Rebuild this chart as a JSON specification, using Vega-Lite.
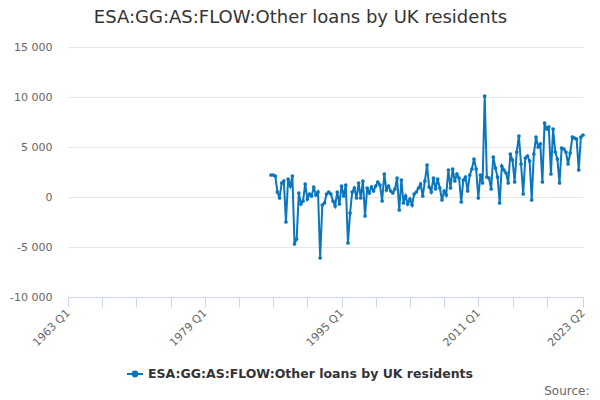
{
  "$schema": "https://vega.github.io/schema/vega-lite/v6.json",
  "width": 515,
  "height": 250,
  "autosize": "none",
  "padding": {"left": 68, "top": 47, "right": 17, "bottom": 103},
  "background": "white",
  "config": {"font": "DejaVu Sans", "view": {"stroke": null}},
  "title": {
    "text": "ESA:GG:AS:FLOW:Other loans by UK residents",
    "fontSize": 18,
    "fontWeight": "normal",
    "color": "#333333",
    "anchor": "middle",
    "dx": -25,
    "baseline": "alphabetic",
    "offset": 0
  },
  "data": {
    "values": [
      {"date": "1986-10-01", "value": 2200},
      {"date": "1987-01-01", "value": 2200},
      {"date": "1987-04-01", "value": 2100},
      {"date": "1987-07-01", "value": 500},
      {"date": "1987-10-01", "value": -100},
      {"date": "1988-01-01", "value": 1400},
      {"date": "1988-04-01", "value": 1600},
      {"date": "1988-07-01", "value": -2500},
      {"date": "1988-10-01", "value": 1800},
      {"date": "1989-01-01", "value": 1100},
      {"date": "1989-04-01", "value": 2100},
      {"date": "1989-07-01", "value": -4700},
      {"date": "1989-10-01", "value": -4200},
      {"date": "1990-01-01", "value": 400},
      {"date": "1990-04-01", "value": -700},
      {"date": "1990-07-01", "value": -400},
      {"date": "1990-10-01", "value": 1300},
      {"date": "1991-01-01", "value": -200},
      {"date": "1991-04-01", "value": 300},
      {"date": "1991-07-01", "value": 100},
      {"date": "1991-10-01", "value": 1000},
      {"date": "1992-01-01", "value": 200},
      {"date": "1992-04-01", "value": 500},
      {"date": "1992-07-01", "value": -6100},
      {"date": "1992-10-01", "value": -800},
      {"date": "1993-01-01", "value": -600},
      {"date": "1993-04-01", "value": 300},
      {"date": "1993-07-01", "value": 500},
      {"date": "1993-10-01", "value": 300},
      {"date": "1994-01-01", "value": -400},
      {"date": "1994-04-01", "value": -900},
      {"date": "1994-07-01", "value": 500},
      {"date": "1994-10-01", "value": -700},
      {"date": "1995-01-01", "value": 1100},
      {"date": "1995-04-01", "value": 100},
      {"date": "1995-07-01", "value": 1200},
      {"date": "1995-10-01", "value": -4600},
      {"date": "1996-01-01", "value": -1600},
      {"date": "1996-04-01", "value": 500},
      {"date": "1996-07-01", "value": 900},
      {"date": "1996-10-01", "value": -100},
      {"date": "1997-01-01", "value": 1400},
      {"date": "1997-04-01", "value": -100},
      {"date": "1997-07-01", "value": 1600},
      {"date": "1997-10-01", "value": -1900},
      {"date": "1998-01-01", "value": 900},
      {"date": "1998-04-01", "value": 400},
      {"date": "1998-07-01", "value": 1000},
      {"date": "1998-10-01", "value": 600},
      {"date": "1999-01-01", "value": 1100},
      {"date": "1999-04-01", "value": 1500},
      {"date": "1999-07-01", "value": 1200},
      {"date": "1999-10-01", "value": -400},
      {"date": "2000-01-01", "value": 2300},
      {"date": "2000-04-01", "value": 700},
      {"date": "2000-07-01", "value": 1100},
      {"date": "2000-10-01", "value": 600},
      {"date": "2001-01-01", "value": 400},
      {"date": "2001-04-01", "value": 800},
      {"date": "2001-07-01", "value": 1900},
      {"date": "2001-10-01", "value": -1300},
      {"date": "2002-01-01", "value": 1700},
      {"date": "2002-04-01", "value": -600},
      {"date": "2002-07-01", "value": 100},
      {"date": "2002-10-01", "value": -700},
      {"date": "2003-01-01", "value": -200},
      {"date": "2003-04-01", "value": -800},
      {"date": "2003-07-01", "value": 300},
      {"date": "2003-10-01", "value": 500},
      {"date": "2004-01-01", "value": 900},
      {"date": "2004-04-01", "value": 1300},
      {"date": "2004-07-01", "value": 100},
      {"date": "2004-10-01", "value": 1600},
      {"date": "2005-01-01", "value": 3200},
      {"date": "2005-04-01", "value": 1000},
      {"date": "2005-07-01", "value": 500},
      {"date": "2005-10-01", "value": 1900},
      {"date": "2006-01-01", "value": 800},
      {"date": "2006-04-01", "value": 1800},
      {"date": "2006-07-01", "value": 900},
      {"date": "2006-10-01", "value": -300},
      {"date": "2007-01-01", "value": 600},
      {"date": "2007-04-01", "value": 200},
      {"date": "2007-07-01", "value": 2700},
      {"date": "2007-10-01", "value": 900},
      {"date": "2008-01-01", "value": 2800},
      {"date": "2008-04-01", "value": 1600},
      {"date": "2008-07-01", "value": 2300},
      {"date": "2008-10-01", "value": 1900},
      {"date": "2009-01-01", "value": -500},
      {"date": "2009-04-01", "value": 1700},
      {"date": "2009-07-01", "value": 2000},
      {"date": "2009-10-01", "value": 600},
      {"date": "2010-01-01", "value": 2200},
      {"date": "2010-04-01", "value": 2800},
      {"date": "2010-07-01", "value": 3800},
      {"date": "2010-10-01", "value": 2800},
      {"date": "2011-01-01", "value": -100},
      {"date": "2011-04-01", "value": 2200},
      {"date": "2011-07-01", "value": 1400},
      {"date": "2011-10-01", "value": 10100},
      {"date": "2012-01-01", "value": 2000},
      {"date": "2012-04-01", "value": 1900},
      {"date": "2012-07-01", "value": 800},
      {"date": "2012-10-01", "value": 4000},
      {"date": "2013-01-01", "value": 2900},
      {"date": "2013-04-01", "value": 2000},
      {"date": "2013-07-01", "value": -600},
      {"date": "2013-10-01", "value": 3100},
      {"date": "2014-01-01", "value": 2700},
      {"date": "2014-04-01", "value": 2400},
      {"date": "2014-07-01", "value": 1400},
      {"date": "2014-10-01", "value": 4300},
      {"date": "2015-01-01", "value": 3700},
      {"date": "2015-04-01", "value": 1500},
      {"date": "2015-07-01", "value": 4500},
      {"date": "2015-10-01", "value": 6100},
      {"date": "2016-01-01", "value": 3300},
      {"date": "2016-04-01", "value": 300},
      {"date": "2016-07-01", "value": 3900},
      {"date": "2016-10-01", "value": 4100},
      {"date": "2017-01-01", "value": 3600},
      {"date": "2017-04-01", "value": -300},
      {"date": "2017-07-01", "value": 4300},
      {"date": "2017-10-01", "value": 6000},
      {"date": "2018-01-01", "value": 5000},
      {"date": "2018-04-01", "value": 5300},
      {"date": "2018-07-01", "value": 1500},
      {"date": "2018-10-01", "value": 7400},
      {"date": "2019-01-01", "value": 6800},
      {"date": "2019-04-01", "value": 7000},
      {"date": "2019-07-01", "value": 2300},
      {"date": "2019-10-01", "value": 6800},
      {"date": "2020-01-01", "value": 4500},
      {"date": "2020-04-01", "value": 3800},
      {"date": "2020-07-01", "value": 1400},
      {"date": "2020-10-01", "value": 4900},
      {"date": "2021-01-01", "value": 4800},
      {"date": "2021-04-01", "value": 4500},
      {"date": "2021-07-01", "value": 3300},
      {"date": "2021-10-01", "value": 4400},
      {"date": "2022-01-01", "value": 6000},
      {"date": "2022-04-01", "value": 5900},
      {"date": "2022-07-01", "value": 5800},
      {"date": "2022-10-01", "value": 2700},
      {"date": "2023-01-01", "value": 6000},
      {"date": "2023-04-01", "value": 6200}
    ]
  },
  "mark": {"type": "line", "strokeWidth": 2, "point": {"filled": true, "size": 14}},
  "encoding": {
    "x": {
      "field": "date",
      "type": "temporal",
      "scale": {
        "type": "utc",
        "domain": [
          {"year": 1963, "month": 1, "date": 1, "utc": true},
          {"year": 2023, "month": 4, "date": 1, "utc": true}
        ]
      },
      "axis": {
        "values": [
          {"year": 1963, "month": 1, "date": 1, "utc": true},
          {"year": 1967, "month": 1, "date": 1, "utc": true},
          {"year": 1971, "month": 1, "date": 1, "utc": true},
          {"year": 1975, "month": 1, "date": 1, "utc": true},
          {"year": 1979, "month": 1, "date": 1, "utc": true},
          {"year": 1983, "month": 1, "date": 1, "utc": true},
          {"year": 1987, "month": 1, "date": 1, "utc": true},
          {"year": 1991, "month": 1, "date": 1, "utc": true},
          {"year": 1995, "month": 1, "date": 1, "utc": true},
          {"year": 1999, "month": 1, "date": 1, "utc": true},
          {"year": 2003, "month": 1, "date": 1, "utc": true},
          {"year": 2007, "month": 1, "date": 1, "utc": true},
          {"year": 2011, "month": 1, "date": 1, "utc": true},
          {"year": 2015, "month": 1, "date": 1, "utc": true},
          {"year": 2019, "month": 1, "date": 1, "utc": true},
          {"year": 2023, "month": 4, "date": 1, "utc": true}
        ],
        "labelExpr": "utcyear(datum.value) == 2023 ? '2023 Q2' : (indexof([1963, 1979, 1995, 2011], utcyear(datum.value)) >= 0 ? utcyear(datum.value) + ' Q1' : '')",
        "labelOverlap": false,
        "labelAngle": -45,
        "labelAlign": "right",
        "labelBaseline": "middle",
        "labelFontSize": 11,
        "labelColor": "#666666",
        "labelPadding": 4,
        "labelFlush": false,
        "grid": false,
        "domainColor": "#ccd6eb",
        "tickColor": "#ccd6eb",
        "tickSize": 10,
        "title": "Source:",
        "titleFontSize": 12,
        "titleFontWeight": "normal",
        "titleColor": "#666666",
        "titleAnchor": "end",
        "titleAlign": "right",
        "titleBaseline": "alphabetic",
        "titleX": 521,
        "titleY": 97
      }
    },
    "y": {
      "field": "value",
      "type": "quantitative",
      "scale": {"domain": [-10000, 15000], "nice": false},
      "axis": {
        "values": [-10000, -5000, 0, 5000, 10000, 15000],
        "labelExpr": "(datum.value < 0 ? '-' : '') + replace(format(abs(datum.value), ',d'), ',', ' ')",
        "labelFontSize": 11,
        "labelColor": "#666666",
        "labelPadding": 16,
        "domain": false,
        "ticks": false,
        "grid": true,
        "gridColor": "#e6e6e6",
        "title": null
      }
    },
    "color": {
      "datum": "ESA:GG:AS:FLOW:Other loans by UK residents",
      "type": "nominal",
      "scale": {"range": ["#0a76bd"]},
      "legend": {
        "orient": "none",
        "legendX": 58,
        "legendY": 318,
        "direction": "horizontal",
        "title": null,
        "labelFontSize": 12.5,
        "labelFontWeight": "bold",
        "labelColor": "#333333",
        "labelLimit": 0,
        "symbolType": "M-1,0L1,0M-0.3,0A0.3,0.3,0,1,1,0.3,0A0.3,0.3,0,1,1,-0.3,0",
        "symbolSize": 256,
        "symbolStrokeWidth": 2,
        "symbolFillColor": "#0a76bd",
        "symbolStrokeColor": "#0a76bd"
      }
    }
  }
}
